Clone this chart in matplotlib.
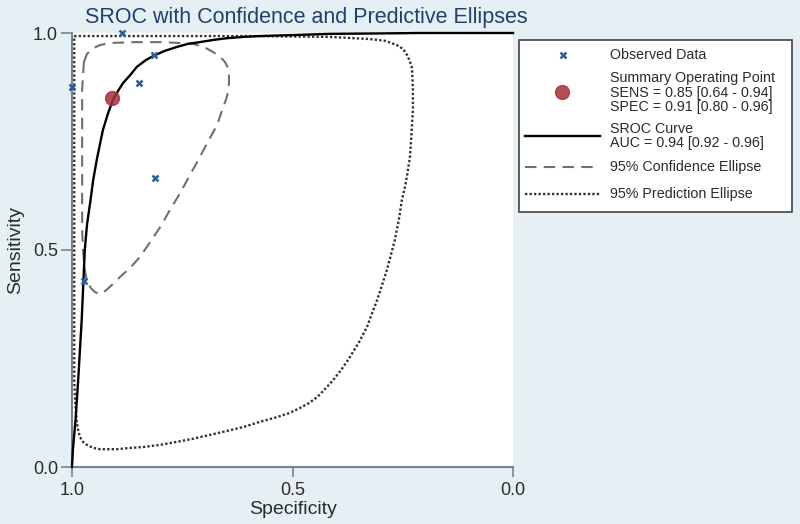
import matplotlib
matplotlib.use('Agg')
import matplotlib.pyplot as plt
from matplotlib.patches import Rectangle

plt.rcParams['font.family'] = ['Liberation Sans', 'DejaVu Sans']

# ---- data ----
obs_spec = [0.887, 0.814, 0.848, 1.000, 0.812, 0.973]
obs_sens = [1.000, 0.949, 0.885, 0.876, 0.666, 0.429]

summary_spec = [0.91]
summary_sens = [0.85]

sroc_spec = [1.000, 0.998, 0.995, 0.992, 0.989, 0.986, 0.982, 0.978, 0.975,
             0.971, 0.966, 0.959, 0.952, 0.944, 0.937, 0.930, 0.918, 0.907,
             0.896, 0.884, 0.868, 0.853, 0.832, 0.812, 0.789, 0.762, 0.737,
             0.710, 0.680, 0.649, 0.612, 0.574, 0.506, 0.415, 0.302, 0.211,
             0.000]
sroc_sens = [0.000, 0.039, 0.074, 0.108, 0.154, 0.200, 0.270, 0.339, 0.408,
             0.500, 0.558, 0.608, 0.661, 0.707, 0.742, 0.776, 0.816, 0.846,
             0.866, 0.885, 0.903, 0.922, 0.938, 0.949, 0.959, 0.968, 0.975,
             0.979, 0.984, 0.988, 0.991, 0.993, 0.995, 0.998, 0.999, 1.000,
             1.000]

conf_spec = [0.973, 0.966, 0.952, 0.937, 0.914, 0.857, 0.800, 0.755, 0.726,
             0.701, 0.680, 0.664, 0.653, 0.646, 0.644, 0.644, 0.646, 0.651,
             0.658, 0.671, 0.692, 0.714, 0.735, 0.755, 0.778, 0.800, 0.823,
             0.846, 0.868, 0.891, 0.912, 0.930, 0.939, 0.948, 0.957, 0.964,
             0.968, 0.971, 0.975, 0.977, 0.977, 0.977, 0.977, 0.977, 0.975,
             0.973]
conf_sens = [0.933, 0.952, 0.965, 0.972, 0.977, 0.979, 0.979, 0.977, 0.975,
             0.968, 0.956, 0.945, 0.933, 0.919, 0.903, 0.885, 0.864, 0.846,
             0.827, 0.788, 0.749, 0.707, 0.668, 0.631, 0.592, 0.553, 0.518,
             0.484, 0.459, 0.438, 0.417, 0.401, 0.399, 0.403, 0.412, 0.424,
             0.438, 0.454, 0.500, 0.546, 0.638, 0.730, 0.823, 0.869, 0.903,
             0.933]

pred_spec = [0.995, 0.823, 0.596, 0.415, 0.324, 0.290, 0.263, 0.249, 0.240,
             0.234, 0.229, 0.227, 0.227, 0.229, 0.231, 0.234, 0.240, 0.245,
             0.252, 0.259, 0.268, 0.277, 0.286, 0.297, 0.308, 0.320, 0.331,
             0.349, 0.370, 0.388, 0.408, 0.426, 0.444, 0.463, 0.483, 0.508,
             0.535, 0.574, 0.612, 0.649, 0.687, 0.726, 0.762, 0.800, 0.839,
             0.868, 0.898, 0.921, 0.937, 0.952, 0.966, 0.975, 0.982, 0.986,
             0.989, 0.991, 0.993, 0.995, 0.995, 0.995, 0.995]
pred_sens = [0.993, 0.993, 0.993, 0.991, 0.986, 0.982, 0.972, 0.963, 0.949,
             0.935, 0.919, 0.869, 0.823, 0.788, 0.753, 0.712, 0.673, 0.645,
             0.615, 0.569, 0.523, 0.488, 0.454, 0.419, 0.385, 0.353, 0.323,
             0.288, 0.253, 0.226, 0.200, 0.180, 0.161, 0.147, 0.136, 0.124,
             0.115, 0.104, 0.092, 0.083, 0.074, 0.065, 0.058, 0.051, 0.046,
             0.044, 0.041, 0.041, 0.041, 0.044, 0.051, 0.058, 0.069, 0.085,
             0.101, 0.127, 0.154, 0.200, 0.385, 0.730, 0.993]

tick_vals = [1.0, 0.5, 0.0]
tick_labels = ['1.0', '0.5', '0.0']

title = 'SROC with Confidence and Predictive Ellipses'
legend_lines = {
    'obs': ['Observed Data'],
    'sum': ['Summary Operating Point', 'SENS = 0.85 [0.64 - 0.94]',
            'SPEC = 0.91 [0.80 - 0.96]'],
    'sroc': ['SROC Curve', 'AUC = 0.94 [0.92 - 0.96]'],
    'conf': ['95% Confidence Ellipse'],
    'pred': ['95% Prediction Ellipse'],
}

# ---- styles ----
BG = '#e6eff4'
AXC = '#77858c'
TXT = '#2b2b2b'
OBS_C = '#2a5f93'
SUM_C = '#a5303c'
CONF_C = '#6f6f6f'
PRED_C = '#333333'
DOT = (0, (1, 0.9))
DASH = (0, (5.5, 3.5))

W, H = 800, 524
fig = plt.figure(figsize=(8, 5.24), dpi=100, facecolor=BG)

ax = fig.add_axes([72 / W, 1 - 467 / H, (513 - 72) / W, (467 - 33) / H])
ax.set_facecolor('white')
ax.set_xlim(1, 0)
ax.set_ylim(0, 1)
for s in ('top', 'right'):
    ax.spines[s].set_visible(False)
for s in ('left', 'bottom'):
    ax.spines[s].set_color(AXC)
    ax.spines[s].set_linewidth(1.5)

ax.set_xticks(tick_vals)
ax.set_xticklabels(tick_labels)
ax.set_yticks(tick_vals)
ax.set_yticklabels(tick_labels)
ax.tick_params(axis='x', length=7, width=1.2, color=AXC, labelsize=13,
               labelcolor=TXT, pad=4)
ax.tick_params(axis='y', length=8, width=1.2, color=AXC, labelsize=13,
               labelcolor=TXT, pad=2)

ax.plot(pred_spec, pred_sens, color=PRED_C, lw=1.7, ls=DOT,
        clip_on=False, zorder=2, solid_joinstyle='round')
ax.plot(conf_spec, conf_sens, color=CONF_C, lw=1.5, ls=DASH,
        clip_on=False, zorder=2)
ax.plot(sroc_spec, sroc_sens, color='black', lw=1.7, clip_on=False, zorder=3,
        solid_joinstyle='round')
ax.plot(obs_spec, obs_sens, ls='none', marker='x', ms=5, mew=1.8,
        color=OBS_C, clip_on=False, zorder=4)
ax.plot(summary_spec, summary_sens, ls='none', marker='o', ms=10,
        color=SUM_C, mec=SUM_C, alpha=0.85, clip_on=False, zorder=5)

fig.text(306 / W, 1 - 18 / H, title, ha='center', va='center',
         fontsize=15.5, color='#233f6e')
fig.text(293 / W, 1 - 510 / H, 'Specificity', ha='center', va='center',
         fontsize=14, color=TXT)
fig.text(16 / W, 1 - 250 / H, 'Sensitivity', ha='center', va='center',
         fontsize=14, color=TXT, rotation=90)

# ---- legend drawn in pixel coordinates ----
lx0, lx1, ly0, ly1 = 518, 793, 39, 213
lax = fig.add_axes([lx0 / W, 1 - ly1 / H, (lx1 - lx0) / W, (ly1 - ly0) / H])
lax.set_xlim(lx0, lx1)
lax.set_ylim(ly1, ly0)
lax.axis('off')
lax.add_patch(Rectangle((lx0 + 1, ly0 + 1), lx1 - lx0 - 2, ly1 - ly0 - 2,
                        facecolor='white', edgecolor='#505050', lw=1.3))

tx = 610
fs = 10.3
lax.plot([563], [55], ls='none', marker='x', ms=5, mew=1.8, color=OBS_C)
lax.text(tx, 55, legend_lines['obs'][0], va='center', fontsize=fs, color=TXT)

lax.plot([562], [92], ls='none', marker='o', ms=10, color=SUM_C, alpha=0.85)
for t, y in zip(legend_lines['sum'], [78, 93, 107]):
    lax.text(tx, y, t, va='center', fontsize=fs, color=TXT)

lax.plot([525, 600], [136, 136], color='black', lw=1.7)
for t, y in zip(legend_lines['sroc'], [129, 143]):
    lax.text(tx, y, t, va='center', fontsize=fs, color=TXT)

lax.plot([525, 600], [167, 167], color=CONF_C, lw=1.5, ls=DASH)
lax.text(tx, 167, legend_lines['conf'][0], va='center', fontsize=fs, color=TXT)

lax.plot([525, 600], [194, 194], color=PRED_C, lw=1.7, ls=DOT)
lax.text(tx, 194, legend_lines['pred'][0], va='center', fontsize=fs, color=TXT)

fig.savefig('out.png', dpi=100, facecolor=BG)
